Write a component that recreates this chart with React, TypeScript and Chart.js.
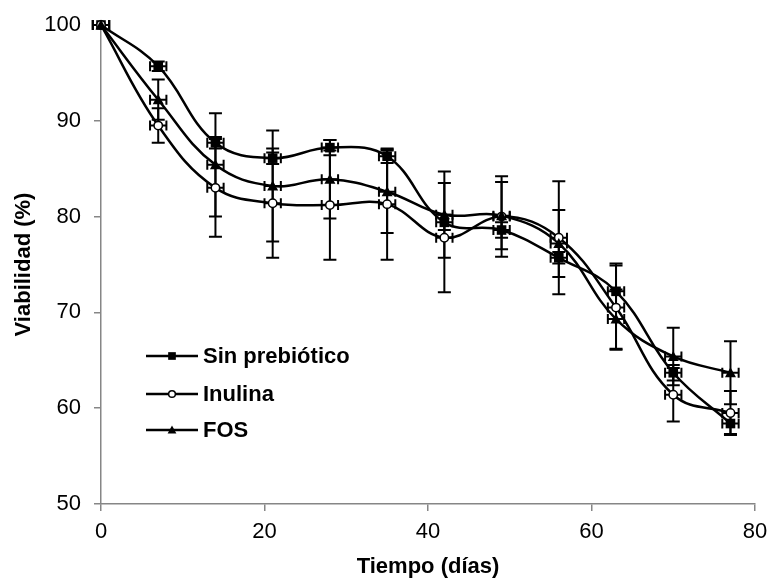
import React, { useEffect, useRef } from "react";
import { Chart, registerables } from "chart.js";

Chart.register(...registerables);

const days = [0, 7, 14, 21, 28, 35, 42, 49, 56, 63, 70, 77];
const sinPrebiotico = [100, 95.7, 87.7, 86.1, 87.2, 86.3, 79.4, 78.6, 75.7, 72.2, 63.7, 58.4];
const sinErr = [0, 0.5, 0.6, 0.6, 0.8, 0.7, 0.8, 0.8, 0.6, 2.9, 0.8, 1.1];
const inulina = [100, 89.5, 83.0, 81.4, 81.2, 81.3, 77.8, 80.0, 77.8, 70.5, 61.4, 59.5];
const inulinaErr = [0, 1.8, 5.1, 5.7, 5.7, 5.8, 5.7, 4.2, 5.9, 4.4, 2.8, 2.3];
const fos = [100, 92.2, 85.4, 83.2, 83.9, 82.6, 80.2, 80.1, 77.2, 69.3, 65.4, 63.7];
const fosErr = [0, 2.1, 5.4, 5.8, 4.1, 4.3, 4.5, 3.5, 3.5, 3.1, 3.0, 3.3];
const dayErr = 1;

const seriesLabels = ["Sin prebiótico", "Inulina", "FOS"];
const xTitle = "Tiempo (días)";
const yTitle = "Viabilidad (%)";

const FONT = "'Liberation Sans', Arial, sans-serif";

function drawMarker(ctx: CanvasRenderingContext2D, style: string, x: number, y: number, s = 1) {
  ctx.save();
  ctx.lineWidth = 1.5;
  ctx.strokeStyle = "#000";
  ctx.fillStyle = "#000";
  if (style === "rect") {
    const h = 4.8 * s;
    ctx.fillRect(x - h, y - h, 2 * h, 2 * h);
  } else if (style === "circle") {
    ctx.fillStyle = "#fff";
    ctx.beginPath();
    ctx.arc(x, y, 4.2 * s, 0, Math.PI * 2);
    ctx.fill();
    ctx.stroke();
  } else {
    ctx.beginPath();
    ctx.moveTo(x, y - 5.5 * s);
    ctx.lineTo(x + 5.5 * s, y + 4.5 * s);
    ctx.lineTo(x - 5.5 * s, y + 4.5 * s);
    ctx.closePath();
    ctx.fill();
  }
  ctx.restore();
}

const errorBarPlugin = {
  id: "errorBars",
  afterDatasetsDraw(chart: any) {
    const ctx: CanvasRenderingContext2D = chart.ctx;
    const xs = chart.scales.x;
    const ys = chart.scales.y;
    ctx.save();
    ctx.strokeStyle = "#000";
    ctx.lineWidth = 2;
    chart.data.datasets.forEach((ds: any) => {
      const errs: number[] = ds.errY;
      ds.data.forEach((p: any, i: number) => {
        const px = xs.getPixelForValue(p.x);
        const py = ys.getPixelForValue(p.y);
        const e = errs[i];
        if (e > 0) {
          const top = ys.getPixelForValue(p.y + e);
          const bot = ys.getPixelForValue(p.y - e);
          ctx.beginPath();
          ctx.moveTo(px, top);
          ctx.lineTo(px, bot);
          ctx.moveTo(px - 6.5, top);
          ctx.lineTo(px + 6.5, top);
          ctx.moveTo(px - 6.5, bot);
          ctx.lineTo(px + 6.5, bot);
          ctx.stroke();
        }
        const l = xs.getPixelForValue(p.x - dayErr);
        const r = xs.getPixelForValue(p.x + dayErr);
        ctx.beginPath();
        ctx.moveTo(l, py);
        ctx.lineTo(r, py);
        ctx.moveTo(l, py - 5);
        ctx.lineTo(l, py + 5);
        ctx.moveTo(r, py - 5);
        ctx.lineTo(r, py + 5);
        ctx.stroke();
      });
    });
    ctx.restore();
    chart.data.datasets.forEach((ds: any) => {
      ds.data.forEach((p: any) => {
        drawMarker(ctx, ds.markerStyle, xs.getPixelForValue(p.x), ys.getPixelForValue(p.y));
      });
    });
  },
};

const legendPlugin = {
  id: "insideLegend",
  afterDraw(chart: any) {
    const ctx: CanvasRenderingContext2D = chart.ctx;
    const rows = [356, 394, 430];
    chart.data.datasets.forEach((ds: any, i: number) => {
      const y = rows[i];
      ctx.save();
      ctx.strokeStyle = "#000";
      ctx.lineWidth = 2.5;
      ctx.beginPath();
      ctx.moveTo(146, y);
      ctx.lineTo(198, y);
      ctx.stroke();
      ctx.restore();
      drawMarker(ctx, ds.markerStyle, 172, y, 0.8);
      ctx.save();
      ctx.fillStyle = "#000";
      ctx.font = `bold 22px ${FONT}`;
      ctx.textAlign = "left";
      ctx.textBaseline = "middle";
      ctx.fillText(ds.label, 203, y + 1);
      ctx.restore();
    });
  },
};

export default function App() {
  const ref = useRef<HTMLCanvasElement>(null);
  useEffect(() => {
    document.body.style.margin = "0";
    const canvas = ref.current!;
    const mk = (vals: number[]) => vals.map((v, i) => ({ x: days[i], y: v }));
    const base = {
      borderColor: "#000",
      borderWidth: 2.5,
      tension: 0.4,
      pointRadius: 0,
      fill: false,
    };
    const chart = new Chart(canvas, {
      type: "line",
      data: {
        datasets: [
          { ...base, label: seriesLabels[0], data: mk(sinPrebiotico), errY: sinErr, markerStyle: "rect" } as any,
          { ...base, label: seriesLabels[1], data: mk(inulina), errY: inulinaErr, markerStyle: "circle" } as any,
          { ...base, label: seriesLabels[2], data: mk(fos), errY: fosErr, markerStyle: "triangle" } as any,
        ],
      },
      options: {
        animation: false,
        responsive: false,
        layout: { padding: { top: 25, right: 15, bottom: 0, left: 0 } },
        plugins: { legend: { display: false }, tooltip: { enabled: false } },
        scales: {
          x: {
            type: "linear",
            min: 0,
            max: 80,
            ticks: { stepSize: 20, color: "#000", font: { family: FONT, size: 22 }, padding: 8 },
            grid: { drawOnChartArea: false, drawTicks: true, tickLength: 7, color: "#868686", lineWidth: 1.5 },
            border: { color: "#868686", width: 1.5 },
            title: {
              display: true,
              text: xTitle,
              color: "#000",
              font: { family: FONT, size: 22, weight: "bold", lineHeight: 1.2 },
              padding: { top: 0, bottom: 0 },
            },
            afterFit(scale: any) {
              scale.height = 76;
              scale.paddingRight = 0;
              scale.paddingLeft = 0;
            },
          },
          y: {
            min: 50,
            max: 100,
            ticks: { stepSize: 10, color: "#000", font: { family: FONT, size: 22 }, padding: 13 },
            grid: { drawOnChartArea: false, drawTicks: true, tickLength: 7, color: "#868686", lineWidth: 1.5 },
            border: { color: "#868686", width: 1.5 },
            title: {
              display: true,
              text: yTitle,
              color: "#000",
              font: { family: FONT, size: 22, weight: "bold", lineHeight: 1.2 },
              padding: { top: 11, bottom: 0 },
            },
            afterFit(scale: any) {
              scale.width = 101;
              scale.paddingTop = 0;
              scale.paddingBottom = 0;
            },
          },
        },
      } as any,
      plugins: [errorBarPlugin, legendPlugin],
    });
    return () => chart.destroy();
  }, []);
  return (
    <div style={{ width: 770, height: 580 }}>
      <canvas ref={ref} width={770} height={580} />
    </div>
  );
}
